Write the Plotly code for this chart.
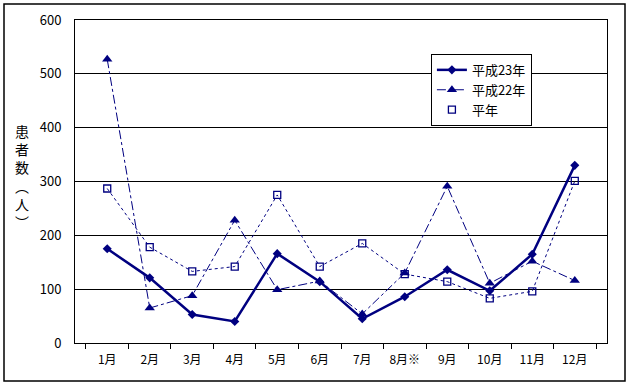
import plotly.graph_objects as go

months = ["1月", "2月", "3月", "4月", "5月", "6月", "7月", "8月※", "9月", "10月", "11月", "12月"]
h23 = [175, 121, 53, 40, 166, 114, 45, 86, 136, 97, 165, 330]
h22 = [527, 65, 88, 228, 99, 115, 54, 130, 291, 111, 152, 116]
heinen = [287, 178, 133, 142, 275, 142, 185, 128, 114, 83, 96, 301]

navy = "#000080"
font = "Noto Sans CJK JP"

fig = go.Figure()
fig.add_trace(go.Scatter(x=months, y=h23, name="平成23年", mode="lines+markers",
                         line=dict(color=navy, width=2.5),
                         marker=dict(symbol="diamond", size=7, color=navy)))
fig.add_trace(go.Scatter(x=months, y=h22, name="平成22年", mode="lines+markers",
                         line=dict(color=navy, width=1, dash="dashdot"),
                         marker=dict(symbol="triangle-up", size=9, color=navy)))
fig.add_trace(go.Scatter(x=months, y=heinen, name="平年", mode="lines", showlegend=False,
                         line=dict(color=navy, width=1, dash="dot")))
fig.add_trace(go.Scatter(x=months, y=heinen, name="平年", mode="markers",
                         marker=dict(symbol="square-open", size=7, color=navy, line=dict(width=1.3))))

fig.update_layout(
    width=630, height=384,
    margin=dict(l=75, r=23, t=20, b=41, autoexpand=False),
    paper_bgcolor="white", plot_bgcolor="white",
    font=dict(family=font, size=12, color="black"),
    legend=dict(x=0.669, y=0.895, xanchor="left", yanchor="top",
                bordercolor="black", borderwidth=1, bgcolor="white",
                font=dict(size=13, family=font), tracegroupgap=0, itemwidth=30),
    showlegend=True,
)
fig.update_xaxes(type="category", showgrid=False, showline=True, linecolor="black", linewidth=1,
                 mirror=True, ticks="outside", tickson="boundaries", ticklen=5, tickcolor="black",
                 tickfont=dict(size=12), automargin=False, ticklabelstandoff=6)
fig.update_yaxes(range=[0, 600], dtick=100, showgrid=True, gridcolor="black", gridwidth=1,
                 showline=True, linecolor="black", linewidth=1, mirror=True, zeroline=False,
                 ticks="", tickfont=dict(size=13), automargin=False, ticklabelstandoff=10)

fig.add_annotation(xref="paper", yref="paper", x=(22 - 75) / 532, y=(343 - 177) / 323,
                   text="患<br>者<br>数<br>︵<br>人<br>︶", showarrow=False,
                   font=dict(size=14, family=font), align="center", xanchor="center", yanchor="middle")

fig.add_shape(type="rect", xref="paper", yref="paper",
              x0=(4 - 75) / 532, x1=(625 - 75) / 532, y0=(343 - 381) / 323, y1=(343 - 4) / 323,
              line=dict(color="black", width=1.5), fillcolor="rgba(0,0,0,0)", layer="below")

fig.write_html("out.html", config={"displayModeBar": False},
               post_script="document.body.style.margin='0';")
